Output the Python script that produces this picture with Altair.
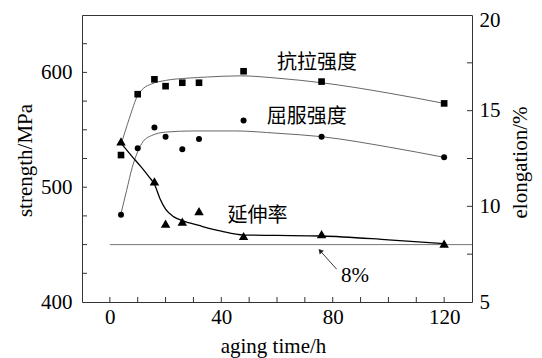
import altair as alt
import pandas as pd

# ---- data ----
t_pts = [4, 10, 16, 20, 26, 32, 48, 76, 120]
uts_vals = [528, 581, 594, 588, 591, 591, 601, 592, 573]
ys_vals = [476, 534, 552, 544, 533, 542, 558, 544, 526]

t_el = [4, 16, 20, 26, 32, 48, 76, 120]
el_vals = [13.4, 11.3, 9.1, 9.2, 9.75, 8.45, 8.55, 8.05]

uts_curve_t = [4, 7, 10, 12, 15, 20, 28, 35, 47, 60, 76, 100, 120]
uts_curve_v = [537, 560, 580, 586, 590, 593, 595, 596, 597, 595, 591, 582, 573]

ys_curve_t = [4, 6, 8, 10, 12, 15, 20, 30, 45, 60, 76, 100, 120]
ys_curve_v = [477, 497, 517, 531, 540, 545, 548, 549, 549, 547, 544, 535, 526]

el_curve_t = [4, 8, 11, 14, 16, 18, 20, 23, 26, 32, 40, 48, 60, 76, 100, 120]
el_curve_v = [13.3, 12.6, 12.1, 11.55, 11.15, 10.4, 9.85, 9.45, 9.25, 9.0, 8.7, 8.5, 8.48, 8.45, 8.25, 8.05]

ref_line_t = [0]
ref_line_t2 = [130]
ref_line_e = [8]

label_text = ["抗拉强度", "屈服强度", "延伸率"]
label_t = [74.4, 70.7, 53]
label_v = [608, 561, 475]

pct_text = ["8%"]
pct_t = [88]
pct_v = [423]

arrow_t = [81.4, 75.5]
arrow_v = [428.6, 444.6]

x_tick_vals = [0, 10, 20, 30, 40, 50, 60, 70, 80, 90, 100, 110, 120]
left_tick_vals = [425, 450, 475, 500, 525, 550, 575, 600, 625]
right_tick_vals = [7.5, 10, 12.5, 15, 17.5]

W, H = 390, 287
FRAME = "#333333"
SERIF = "Liberation Serif"

xs = alt.Scale(domain=[-10, 130], nice=False, zero=False)
xaxis = alt.Axis(values=[0, 40, 80, 120], title="aging time/h", tickSize=0, labelPadding=4,
                 grid=False, domain=False, titleX=191, titleY=50, titleBaseline="alphabetic",
                 titleAlign="center")
ysc = alt.Scale(domain=[400, 650], nice=False, zero=False)
yaxis = alt.Axis(values=[400, 500, 600], title="strength/MPa", orient="left", tickSize=0,
                 labelPadding=10, grid=False, domain=False, titleX=-57, titleY=145,
                 titleAngle=270, titleAlign="center", titleBaseline="middle")
esc = alt.Scale(domain=[5, 20], nice=False, zero=False)
eaxis = alt.Axis(values=[5, 10, 15, 20], title="elongation/%", orient="right", tickSize=0,
                 labelPadding=7, grid=False, domain=False, titleX=48, titleY=147,
                 titleAngle=270, titleAlign="center", titleBaseline="middle",
                 labelOffset={"condition": {"test": "datum.value == 20", "value": 5}, "value": 0})


def X(f="t"):
    return alt.X(f"{f}:Q", scale=xs, axis=xaxis)


def Y(f="v"):
    return alt.Y(f"{f}:Q", scale=ysc, axis=yaxis)


def E(f="e"):
    return alt.Y(f"{f}:Q", scale=esc, axis=eaxis)


df_uts = pd.DataFrame({"t": t_pts, "v": uts_vals})
df_ys = pd.DataFrame({"t": t_pts, "v": ys_vals})
df_el = pd.DataFrame({"t": t_el, "e": el_vals})
df_uts_c = pd.DataFrame({"t": uts_curve_t, "v": uts_curve_v})
df_ys_c = pd.DataFrame({"t": ys_curve_t, "v": ys_curve_v})
df_el_c = pd.DataFrame({"t": el_curve_t, "e": el_curve_v})
df_ref = pd.DataFrame({"t": ref_line_t, "t2": ref_line_t2, "e": ref_line_e})
df_lab = pd.DataFrame({"t": label_t, "v": label_v, "label": label_text})
df_pct = pd.DataFrame({"t": pct_t, "v": pct_v, "label": pct_text})
df_arrow = pd.DataFrame({"t": arrow_t, "v": arrow_v})
df_head = df_arrow.iloc[[1]]
df_xt = pd.DataFrame({"t": x_tick_vals})
df_lt = pd.DataFrame({"v": left_tick_vals})
df_rt = pd.DataFrame({"e": right_tick_vals})

uts_line = alt.Chart(df_uts_c).mark_line(color="#555555", strokeWidth=0.9, interpolate="monotone").encode(x=X(), y=Y())
ys_line = alt.Chart(df_ys_c).mark_line(color="#555555", strokeWidth=0.9, interpolate="monotone").encode(x=X(), y=Y())
uts_pts = alt.Chart(df_uts).mark_point(shape="square", filled=True, color="black", size=44, opacity=1).encode(x=X(), y=Y())
ys_pts = alt.Chart(df_ys).mark_point(shape="circle", filled=True, color="black", size=36, opacity=1).encode(x=X(), y=Y())
labels = alt.Chart(df_lab).mark_text(font="Noto Sans CJK SC", fontSize=20, align="center", baseline="middle", color="black").encode(x=X(), y=Y(), text="label:N")
pct = alt.Chart(df_pct).mark_text(font=SERIF, fontSize=21, align="center", baseline="middle", color="black").encode(x=X(), y=Y(), text="label:N")
arrow = alt.Chart(df_arrow).mark_line(color="#222222", strokeWidth=0.9).encode(x=X(), y=Y())
head = alt.Chart(df_head).mark_point(shape="triangle-up", filled=True, color="#222222", size=30, angle=318, opacity=1).encode(x=X(), y=Y())
xticks = alt.Chart(df_xt).mark_rule(color=FRAME, strokeWidth=1).encode(x=X(), y=alt.value(H), y2=alt.value(H - 5))
lticks = alt.Chart(df_lt).mark_rule(color=FRAME, strokeWidth=1).encode(y=Y(), x=alt.value(0), x2=alt.value(5))

strength = alt.layer(uts_line, ys_line, uts_pts, ys_pts, labels, pct, arrow, head, xticks, lticks)

ref = alt.Chart(df_ref).mark_rule(color="#666666", strokeWidth=0.9).encode(x=X(), x2="t2:Q", y=E())
el_line = alt.Chart(df_el_c).mark_line(color="black", strokeWidth=1.3, interpolate="monotone").encode(x=X(), y=E())
el_pts = alt.Chart(df_el).mark_point(shape="triangle-up", filled=True, color="black", size=90, opacity=1).encode(x=X(), y=E())
rticks = alt.Chart(df_rt).mark_rule(color=FRAME, strokeWidth=1).encode(y=E(), x=alt.value(W - 5), x2=alt.value(W))

elong = alt.layer(ref, el_line, el_pts, rticks)

chart = alt.layer(strength, elong).resolve_scale(y="independent").properties(
    width=W, height=H,
    autosize=alt.AutoSizeParams(type="none"),
    padding={"left": 74, "top": 7, "right": 62, "bottom": 56},
    background="white",
).configure_view(stroke=FRAME, strokeWidth=1).configure_axis(
    labelFont=SERIF, labelFontSize=21, labelColor="black",
    titleFont=SERIF, titleFontSize=21, titleFontWeight="normal", titleColor="black",
)

chart.save("out.html", embed_options={"renderer": "svg", "actions": False})
